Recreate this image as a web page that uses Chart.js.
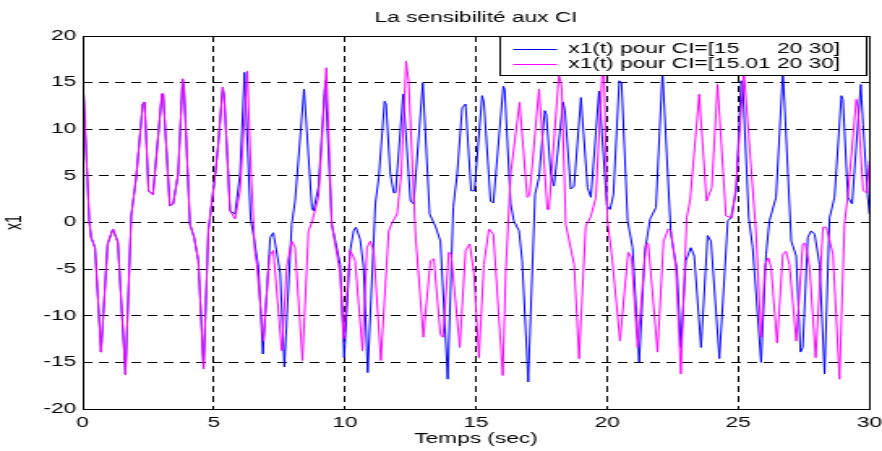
<!DOCTYPE html>
<html lang="fr">
<head>
<meta charset="utf-8">
<title>La sensibilité aux CI</title>
<script src="https://cdn.jsdelivr.net/npm/chart.js@4.4.1/dist/chart.umd.min.js"></script>
<style>
    html, body { margin: 0; padding: 0; background: #fff; overflow: hidden; }
</style>
</head>
<body>
<!-- drawn on a narrow bitmap and stretched, like the original figure -->
<canvas id="myChart" width="544" height="451" style="display:block;width:882px;height:451px"></canvas>
<script>
const chartTitle = 'La sensibilité aux CI';
const xTitle = 'Temps (sec)';
const yTitle = 'x1';
const seriesLabels = ['x1(t) pour CI=[15      20 30]', 'x1(t) pour CI=[15.01 20 30]'];
const xTicks = [0, 5, 10, 15, 20, 25, 30];
const yTicks = [-20, -15, -10, -5, 0, 5, 10, 15, 20];

// both runs are the same until ~5.6 s
const tShared = [0, 0.25, 0.32, 0.47, 0.70, 0.95, 1.15, 1.34, 1.63, 1.85, 2.04, 2.29, 2.36, 2.51, 2.68, 3.02, 3.07, 3.32, 3.45, 3.64, 3.81, 3.87, 4.09, 4.25, 4.41, 4.61, 4.79, 5.04, 5.17, 5.34, 5.40, 5.62];
const xShared = [15.9, 0.2, -1.6, -2.7, -13.9, -2.3, -0.7, -2.1, -16.3, 0.7, 4.8, 12.7, 12.9, 3.4, 3.0, 13.8, 13.8, 1.8, 2.0, 5.2, 15.4, 14.1, -0.2, -1.6, -4.1, -15.7, -0.9, 4.8, 8.4, 14.5, 13.4, 1.25];

// CI = [15 20 30]
const tBlue = [5.81, 6.00, 6.17, 6.40, 6.55, 6.70, 6.87, 7.15, 7.27, 7.53,
    7.69, 7.97, 8.10, 8.44, 8.74, 8.80, 8.99, 9.25, 9.50, 9.82,
    9.97, 10.20, 10.33, 10.42, 10.58, 10.71, 10.87, 11.16, 11.29, 11.51,
    11.57, 11.73, 11.86, 11.93, 12.22, 12.50, 12.62, 12.97, 13.23, 13.45,
    13.64, 13.92, 14.13, 14.28, 14.47, 14.60, 14.81, 14.94, 15.23, 15.30,
    15.55, 15.66, 16.04, 16.09, 16.32, 16.44, 16.64, 16.76, 16.99, 17.25,
    17.40, 17.62, 17.68, 17.85, 17.97, 18.32, 18.39, 18.61, 18.74, 19.00,
    19.25, 19.38, 19.69, 19.99, 20.11, 20.24, 20.46, 20.55, 20.78, 20.97,
    21.22, 21.44, 21.64, 21.86, 22.11, 22.43, 22.66, 22.81, 23.00, 23.19,
    23.32, 23.58, 23.83, 23.96, 24.28, 24.60, 24.72, 24.92, 25.11, 25.17,
    25.40, 25.55, 25.87, 26.06, 26.19, 26.44, 26.70, 26.76, 27.02, 27.21,
    27.37, 27.46, 27.65, 27.78, 27.91, 28.10, 28.29, 28.48, 28.67, 28.93,
    28.99, 29.18, 29.34, 29.67, 29.76, 29.93, 30.00];
const xBlue = [0.9, 5.2, 16.1, 0.5, -2.0, -4.8, -14.1, -1.6, -1.1, -5.4,
    -15.5, -0.2, 2.3, 14.3, 1.6, 1.25, 3.75, 15.2, -0.2, -4.5,
    -14.5, -3.0, -0.9, -0.5, -1.8, -4.8, -16.1, 2.0, 4.8, 13.0,
    12.7, 5.2, 3.2, 3.2, 13.75, 2.3, 2.0, 15.0, 0.9, -0.4,
    -2.0, -16.8, 1.6, 5.2, 12.3, 12.7, 3.4, 3.4, 13.6, 12.9,
    2.3, 2.1, 14.6, 14.3, 2.0, 0.2, -0.9, -4.1, -17.1, 3.0,
    4.8, 12.0, 11.6, 5.2, 3.9, 12.9, 12.0, 3.6, 3.9, 13.4,
    3.75, 2.7, 14.1, 1.8, 1.4, 3.0, 15.2, 15.0, 0.2, -2.7,
    -15.0, -3.0, 0.4, 1.6, 16.2, -1.25, -5.0, -13.4, -4.1, -2.7,
    -3.6, -13.4, -1.4, -2.0, -14.6, 0.2, 0.5, 3.4, 15.2, 14.8,
    0.5, -2.7, -15.0, -3.4, 0.2, 2.7, 16.1, 13.0, -2.0, -3.6,
    -13.9, -13.4, -1.6, -0.9, -1.25, -4.5, -16.25, 0.5, 2.7, 13.6,
    13.2, 2.7, 2.0, 14.8, 10.5, 3.0, 0.9];

// CI = [15.01 20 30]
const tMagenta = [5.81, 6.00, 6.28, 6.40, 6.56, 6.64, 6.89, 7.12, 7.27, 7.59,
    7.78, 7.97, 8.10, 8.38, 8.61, 8.74, 8.99, 9.29, 9.50, 9.82,
    9.95, 10.20, 10.39, 10.67, 10.84, 10.97, 11.10, 11.37, 11.67, 11.80,
    11.99, 12.15, 12.33, 12.43, 12.69, 12.99, 13.26, 13.39, 13.64, 13.74,
    13.96, 14.05, 14.38, 14.60, 14.76, 14.92, 15.11, 15.30, 15.49, 15.66,
    16.02, 16.13, 16.32, 16.66, 16.95, 17.04, 17.40, 17.72, 17.78, 18.16,
    18.27, 18.42, 18.74, 18.93, 19.18, 19.37, 19.57, 19.82, 19.88, 20.01,
    20.20, 20.49, 20.80, 20.93, 21.16, 21.48, 21.57, 21.92, 22.15, 22.33,
    22.43, 22.62, 22.81, 23.03, 23.16, 23.51, 23.79, 23.99, 24.21, 24.53,
    24.76, 24.92, 25.21, 25.49, 25.68, 25.87, 26.02, 26.15, 26.25, 26.48,
    26.70, 26.82, 26.95, 27.21, 27.46, 27.56, 27.72, 27.95, 28.23, 28.36,
    28.61, 28.86, 29.05, 29.18, 29.50, 29.56, 29.76, 29.89, 30.00];
const xMagenta = [0.4, 3.4, 16.25, 6.5, -3.0, -4.5, -12.7, -3.6, -3.0, -13.75,
    -4.8, -2.0, -2.7, -14.8, -0.9, 0.0, 2.7, 16.6, -0.2, -5.5,
    -12.5, -3.0, -4.1, -13.75, -2.7, -2.0, -3.0, -14.8, -0.9, 0.0,
    0.9, 5.2, 17.3, 15.2, -1.25, -12.3, -4.1, -3.9, -12.0, -12.3,
    -3.2, -3.4, -13.4, -3.0, -2.3, -5.5, -14.5, -4.5, -0.7, -1.25,
    -16.4, -5.5, 5.2, 12.9, 2.7, 2.9, 14.3, 1.4, 1.4, 15.9,
    14.5, -0.2, -4.5, -14.6, -0.4, 0.6, 2.7, 16.6, 16.3, 0.2,
    -4.1, -12.7, -3.2, -3.75, -13.4, -2.3, -2.25, -13.9, -2.0, -0.7,
    -0.9, -4.8, -16.25, 0.5, 2.3, 13.75, 2.3, 3.75, 14.8, 0.7,
    0.5, 4.1, 16.4, 5.9, -1.25, -12.3, -4.5, -3.8, -4.8, -12.9,
    -3.4, -3.1, -4.5, -12.7, -2.3, -2.25, -4.8, -14.5, -0.5, -0.5,
    -3.4, -16.8, -0.2, 3.0, 13.2, 12.3, 3.4, 3.2, 6.6];

const FONT_FAMILY = "'Liberation Sans', Arial, Helvetica, sans-serif";

function toPoints(ts, vs){
    return ts.map((t, i)=>({x: t, y: vs[i]}));
}

// frame, title and legend drawn the matlab way
const matlabFrame = {
    id: 'matlabFrame',
    afterDraw(chart){
        const {ctx, chartArea: a} = chart;
        ctx.save();
        ctx.setLineDash([]);
        ctx.strokeStyle = '#000';
        ctx.lineWidth = 1;
        ctx.strokeRect(Math.round(a.left) + 0.5, Math.round(a.top) + 0.5, Math.round(a.width), Math.round(a.height));

        ctx.fillStyle = '#000';
        ctx.font = `14px ${FONT_FAMILY}`;
        ctx.textAlign = 'center';
        ctx.textBaseline = 'middle';
        ctx.fillText(chartTitle, (a.left + a.right) / 2, 18);

        // legend box, top right inside the axes
        const boxW = 226, boxH = 39;
        const bx = Math.round(a.right - 2 - boxW) + 0.5;
        const by = Math.round(a.top) + 0.5;
        ctx.fillStyle = '#fff';
        ctx.fillRect(bx, by, boxW, boxH);
        ctx.strokeRect(bx, by, boxW, boxH);
        ctx.textAlign = 'left';
        chart.data.datasets.forEach((ds, i)=>{
            const ry = Math.round(by + 12 + i * 15) + 0.5;
            ctx.strokeStyle = ds.borderColor;
            ctx.beginPath();
            ctx.moveTo(bx + 8, ry);
            ctx.lineTo(bx + 35, ry);
            ctx.stroke();
            ctx.fillStyle = '#000';
            ctx.fillText(ds.label, bx + 42, ry);
        });
        ctx.restore();
    }
};

document.addEventListener("DOMContentLoaded", ()=>{
    Chart.defaults.font.family = FONT_FAMILY;
    Chart.defaults.font.size = 14;
    Chart.defaults.color = '#000';

    const canvas = document.getElementById('myChart');
    new Chart(canvas.getContext('2d'), {
        type: 'line',
        data: {
            datasets: [
                {
                    label: seriesLabels[0],
                    data: toPoints(tShared.concat(tBlue), xShared.concat(xBlue)),
                    borderColor: '#0000ff',
                    borderWidth: 1,
                    order: 1
                },
                {
                    label: seriesLabels[1],
                    data: toPoints(tShared.concat(tMagenta), xShared.concat(xMagenta)),
                    borderColor: '#ff00ff',
                    borderWidth: 1,
                    order: 0
                }
            ]
        },
        options: {
            responsive: false,
            devicePixelRatio: 1,
            animation: false,
            layout: {padding: {top: 36, right: 0, left: 0, bottom: 0}},
            elements: {
                point: {radius: 0},
                line: {tension: 0, fill: false}
            },
            plugins: {
                legend: {display: false},
                title: {display: false},
                tooltip: {enabled: false}
            },
            scales: {
                x: {
                    type: 'linear',
                    min: xTicks[0],
                    max: xTicks[xTicks.length - 1],
                    afterBuildTicks: (scale)=>{ scale.ticks = xTicks.map(v=>({value: v})); },
                    afterFit: (scale)=>{ scale.height = 42; },
                    // label gap comes from an invisible tick, so no extra right padding is added
                    ticks: {padding: 0, maxRotation: 0, color: '#000'},
                    grid: {color: '#000', lineWidth: 1, drawTicks: true, tickLength: 6, tickColor: 'rgba(0,0,0,0)'},
                    border: {display: false, dash: [6, 4]},
                    title: {display: true, text: xTitle, padding: {top: 0, bottom: 3}, color: '#000'}
                },
                y: {
                    type: 'linear',
                    min: yTicks[0],
                    max: yTicks[yTicks.length - 1],
                    afterBuildTicks: (scale)=>{ scale.ticks = yTicks.map(v=>({value: v})); },
                    afterFit: (scale)=>{ scale.width = 51; },
                    ticks: {padding: 4, color: '#000'},
                    grid: {color: '#000', lineWidth: 1, drawTicks: false},
                    border: {display: false, dash: [6, 4]},
                    title: {display: true, text: yTitle, padding: {top: 1, bottom: 0}, color: '#000'}
                }
            }
        },
        plugins: [matlabFrame]
    });
    canvas.style.width = '882px';
    canvas.style.height = '451px';
});
</script>
</body>
</html>
